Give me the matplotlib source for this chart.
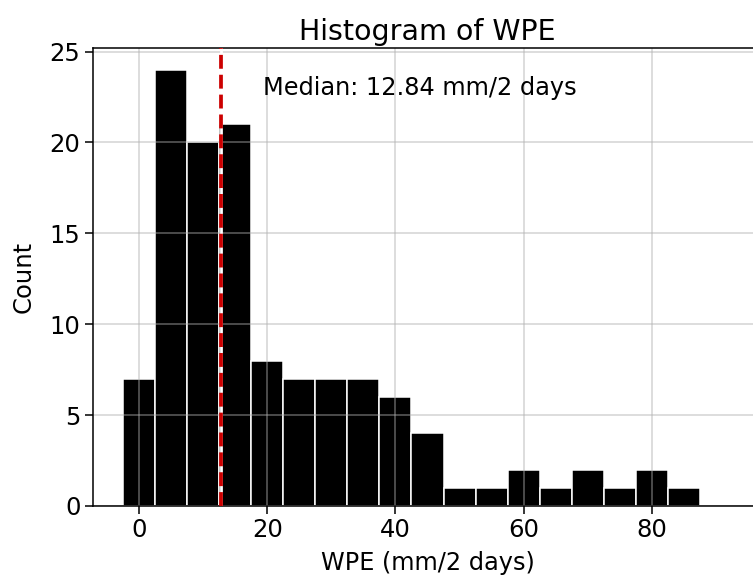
import numpy as np
import matplotlib
matplotlib.use("Agg")
import matplotlib.pyplot as plt

# histogram counts (bin width 5, centred on multiples of 5)
bin_centers = [0, 5, 10, 15, 20, 25, 30, 35, 40, 45, 50, 55, 60, 65, 70, 75, 80, 85]
counts = [7, 24, 20, 21, 8, 7, 7, 7, 6, 4, 1, 1, 2, 1, 2, 1, 2, 1]
median_wpe = 12.84

edges = np.arange(-2.5, 90, 5)

fig = plt.figure(figsize=(7.53, 5.78), dpi=100)
ax = fig.add_axes([0.1235, 0.1246, 0.8885, 0.7924])

ax.hist(bin_centers, bins=edges, weights=counts, color='black',
        edgecolor='white', linewidth=1.1)
ax.axvline(median_wpe, color='white', linewidth=2.0, zorder=3)
ax.axvline(median_wpe, color='#cc0000', linestyle='--', linewidth=2.7, zorder=4)
ax.text(19.4, 23.0, f'Median: {median_wpe:.2f} mm/2 days', fontsize=17.3,
        va='center', ha='left')

ax.set_xlim(-7.2, 97.2)
ax.set_ylim(0, 25.2)
ax.set_xticks([0, 20, 40, 60, 80])
ax.set_yticks([0, 5, 10, 15, 20, 25])
ax.grid(True, color='#b0b0b0', alpha=0.5, linewidth=1.2)

ax.set_title('Histogram of WPE', fontsize=20.5)
ax.set_xlabel('WPE (mm/2 days)', fontsize=17.3, labelpad=6)
ax.set_ylabel('Count', fontsize=17.5, labelpad=10)
ax.tick_params(labelsize=17.5, length=5.5, width=1.1)
for s in ax.spines.values():
    s.set_linewidth(1.1)
ax.spines['right'].set_visible(False)  # falls outside the frame in the original

fig.savefig('out.png', dpi=100)
